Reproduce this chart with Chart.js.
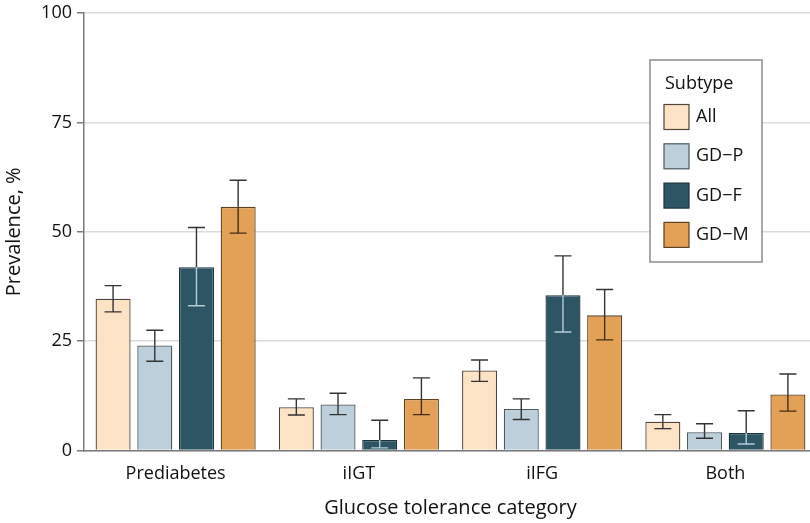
<!DOCTYPE html>
<html>
<head>
<meta charset="utf-8">
<script src="https://cdn.jsdelivr.net/npm/chart.js@4/dist/chart.umd.min.js"></script>
<style>
  html, body { margin:0; padding:0; background:#fff; overflow:hidden; }
  #wrap { width:817px; height:523px; }
</style>
</head>
<body>
<div id="wrap"><canvas id="chart" width="817" height="523"></canvas></div>
<script>
// ── Data ───────────────────────────────────────────
const CATEGORIES = ["Prediabetes", "iIGT", "iIFG", "Both"];
const SUBTYPES = ["All", "GD\u2212P", "GD\u2212F", "GD\u2212M"];

const ALL_VAL   = [34.7, 9.9, 18.3, 6.6];
const ALL_LO    = [31.7, 8.1, 15.8, 5.0];
const ALL_HI    = [37.7, 11.8, 20.7, 8.2];

const GDP_VAL   = [24.0, 10.5, 9.5, 4.2];
const GDP_LO    = [20.4, 8.2, 7.1, 2.8];
const GDP_HI    = [27.5, 13.1, 11.8, 6.1];

const GDF_VAL   = [41.9, 2.4, 35.5, 4.0];
const GDF_LO    = [33.1, 0.6, 27.1, 1.5];
const GDF_HI    = [51.0, 6.9, 44.5, 9.1];

const GDM_VAL   = [55.7, 11.8, 30.9, 12.8];
const GDM_LO    = [49.7, 8.2, 25.3, 9.0];
const GDM_HI    = [61.8, 16.6, 36.8, 17.5];

const Y_TICKS = [0, 25, 50, 75, 100];

const FONT = "'Open Sans', 'Noto Sans', sans-serif";
const TEXT = "#111";

// ── Series styles ──────────────────────────────────
const SERIES = [
  { label:SUBTYPES[0], data:ALL_VAL, lo:ALL_LO, hi:ALL_HI, fill:"#fde3c6", border:"#4f453d", inner:"#333" },
  { label:SUBTYPES[1], data:GDP_VAL, lo:GDP_LO, hi:GDP_HI, fill:"#bdcfda", border:"#4a5860", inner:"#333" },
  { label:SUBTYPES[2], data:GDF_VAL, lo:GDF_LO, hi:GDF_HI, fill:"#2e5564", border:"#1c323b", inner:"#b4ccd6" },
  { label:SUBTYPES[3], data:GDM_VAL, lo:GDM_LO, hi:GDM_HI, fill:"#e3a157", border:"#5e4023", inner:"#432d15" },
];

// ── Error bar plugin ───────────────────────────────
const errorBars = {
  id: "errorBars",
  afterDatasetsDraw(chart) {
    const ctx = chart.ctx;
    const y = chart.scales.y;
    const cap = 8.5;
    chart.data.datasets.forEach((ds, di) => {
      const meta = chart.getDatasetMeta(di);
      meta.data.forEach((bar, i) => {
        const x = bar.x;
        const top = y.getPixelForValue(ds.hi[i]);
        const low = y.getPixelForValue(ds.lo[i]);
        ctx.save();
        ctx.lineWidth = 1.4;
        // above bar
        ctx.strokeStyle = "#333";
        ctx.beginPath();
        ctx.moveTo(x, top); ctx.lineTo(x, bar.y);
        ctx.moveTo(x - cap, top); ctx.lineTo(x + cap, top);
        ctx.stroke();
        // inside bar
        ctx.strokeStyle = ds.inner;
        ctx.beginPath();
        ctx.moveTo(x, bar.y); ctx.lineTo(x, low);
        ctx.moveTo(x - cap, low); ctx.lineTo(x + cap, low);
        ctx.stroke();
        ctx.restore();
      });
    });
  }
};

// ── Legend box plugin ──────────────────────────────
const legendBox = {
  id: "legendBox",
  afterDraw(chart) {
    const ctx = chart.ctx;
    const bx = 650, by = 60, bw = 112, bh = 202;
    ctx.save();
    ctx.fillStyle = "#fff";
    ctx.fillRect(bx, by, bw, bh);
    ctx.strokeStyle = "#8c8c8c";
    ctx.lineWidth = 1.5;
    ctx.strokeRect(bx, by, bw, bh);
    ctx.fillStyle = TEXT;
    ctx.font = "18px " + FONT;
    ctx.textBaseline = "middle";
    ctx.fillText("Subtype", bx + 15, by + 24);
    chart.data.datasets.forEach((ds, i) => {
      const cy = by + 57 + i * 39.3;
      ctx.fillStyle = ds.backgroundColor;
      ctx.fillRect(bx + 14, cy - 12.5, 25, 25);
      ctx.strokeStyle = ds.borderColor;
      ctx.lineWidth = 1.2;
      ctx.strokeRect(bx + 14, cy - 12.5, 25, 25);
      ctx.fillStyle = TEXT;
      ctx.fillText(ds.label, bx + 46, cy);
    });
    ctx.restore();
  }
};

new Chart(document.getElementById("chart"), {
  type: "bar",
  data: {
    labels: CATEGORIES,
    datasets: SERIES.map(s => ({
      label: s.label,
      data: s.data,
      lo: s.lo,
      hi: s.hi,
      inner: s.inner,
      backgroundColor: s.fill,
      borderColor: s.border,
      borderWidth: 1.3,
      barPercentage: 0.84,
      categoryPercentage: 0.91,
    })),
  },
  options: {
    responsive: false,
    animation: false,
    devicePixelRatio: 1,
    layout: { padding: { top: 0, right: 0, bottom: 0, left: 0 } },
    plugins: {
      legend: { display: false },
      tooltip: { enabled: false },
    },
    scales: {
      x: {
        grid: { display: false, drawTicks: false },
        border: { display: true, color: "#7a7a7a", width: 1.5 },
        ticks: { color: TEXT, font: { family: FONT, size: 18 }, padding: 13 },
        title: { display: true, text: "Glucose tolerance category", color: TEXT,
                 font: { family: FONT, size: 20 }, padding: { top: 0, bottom: 3 } },
        afterFit(scale) { scale.height = 72.5; },
      },
      y: {
        min: 0,
        max: 100,
        afterBuildTicks(scale) { scale.ticks = Y_TICKS.map(v => ({ value: v })); },
        grid: { color: "#dcdcdc", lineWidth: 1.5, tickLength: 7, tickColor: "#7a7a7a", drawTicks: true },
        border: { display: true, color: "#7a7a7a", width: 1.5 },
        ticks: { color: TEXT, font: { family: FONT, size: 18, lineHeight: 0.9 }, padding: 5 },
        title: { display: true, text: "Prevalence, %", color: TEXT,
                 font: { family: FONT, size: 20 }, padding: { top: 2, bottom: 0 } },
        afterFit(scale) { scale.width = 84; },
      },
    },
  },
  plugins: [errorBars, legendBox],
});
</script>
</body>
</html>
